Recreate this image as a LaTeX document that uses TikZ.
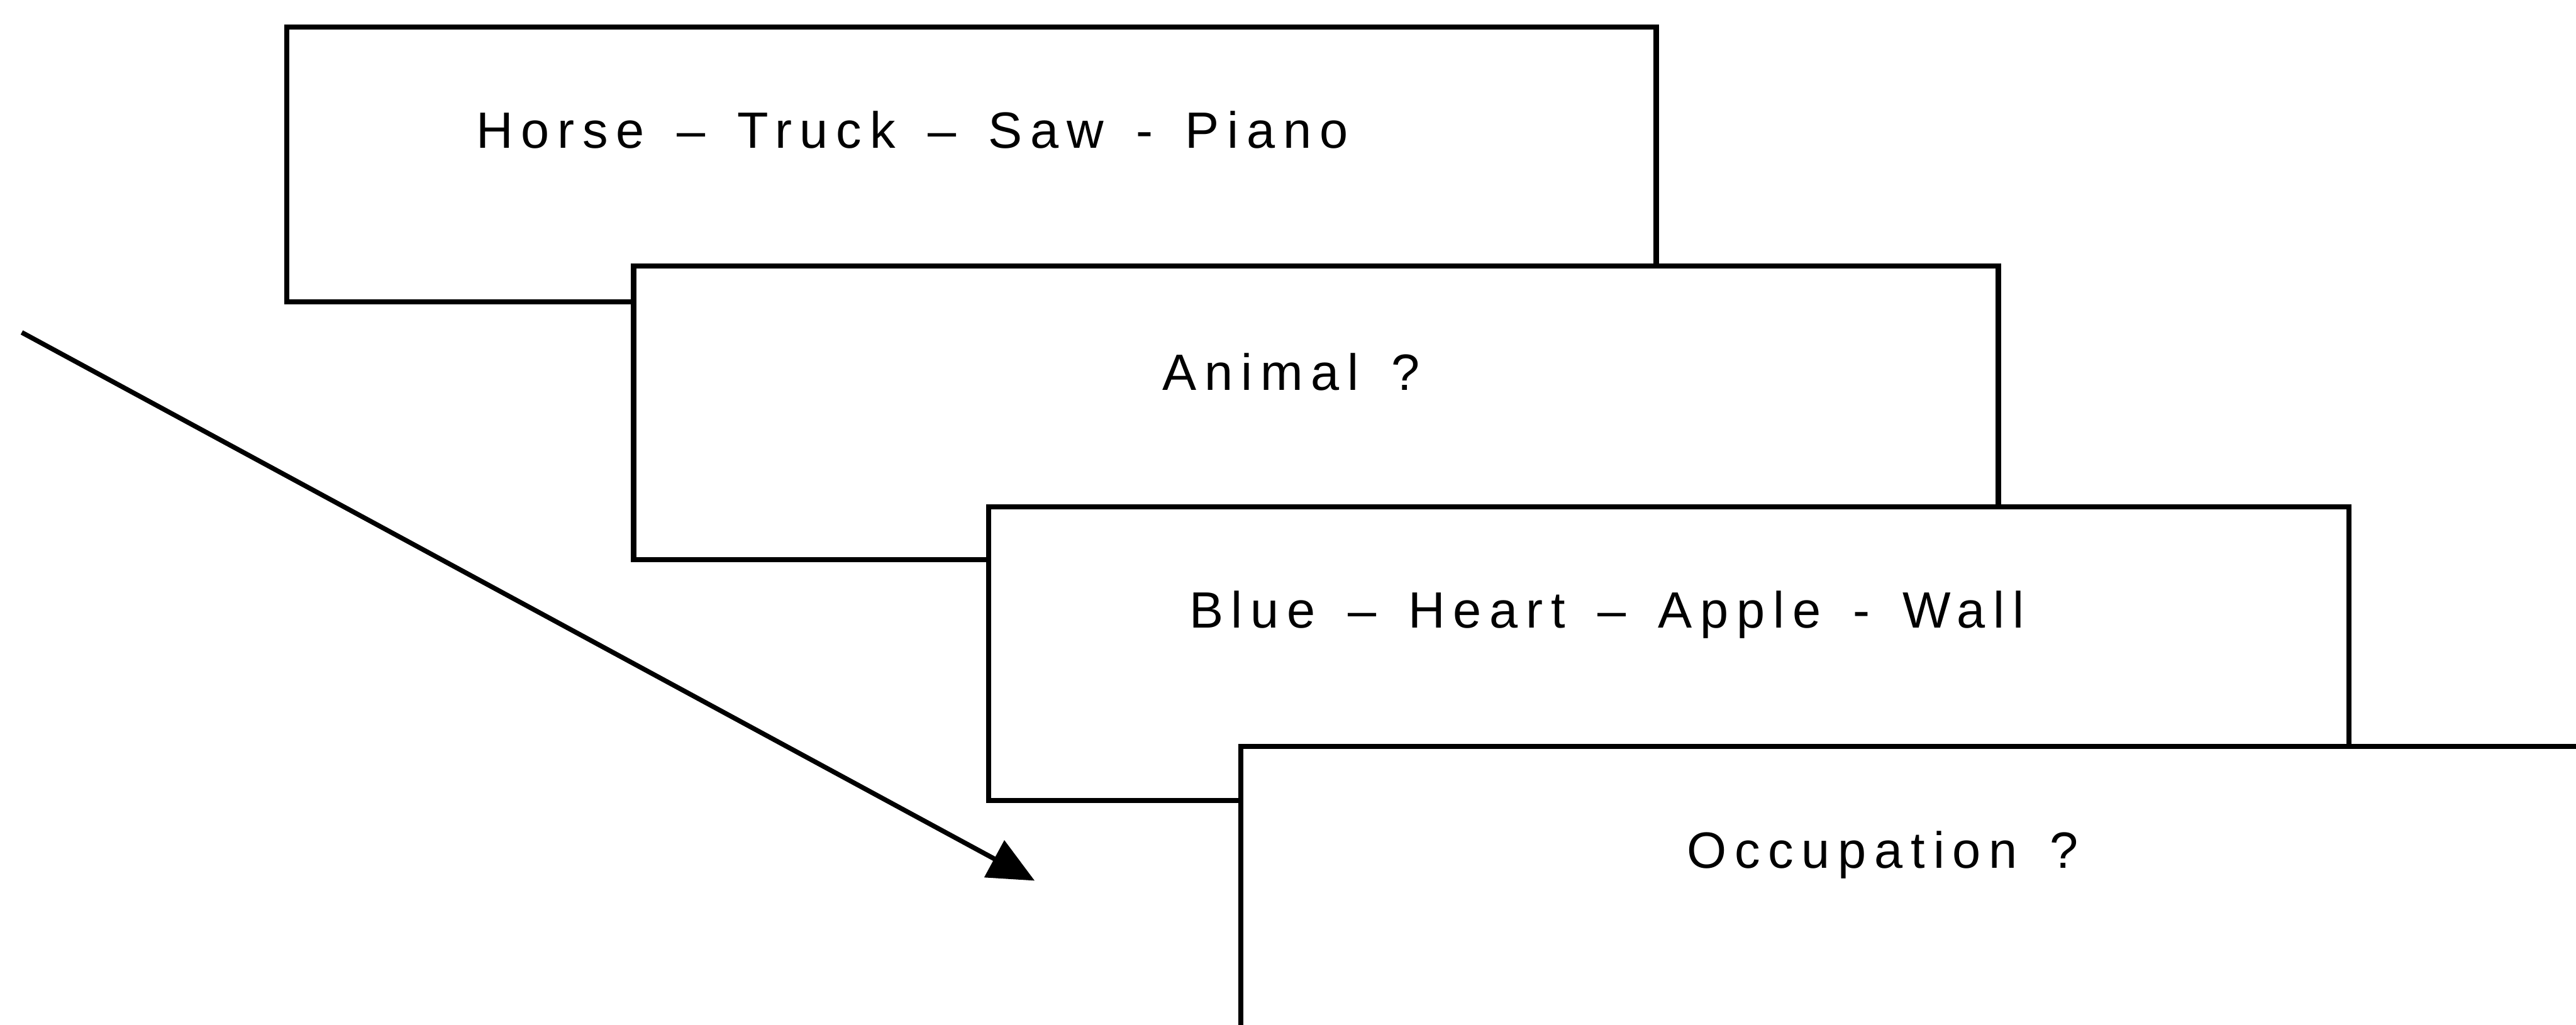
\documentclass[tikz,border=0pt]{standalone}
\usepackage{fontspec}
\newfontfamily\cardfont{Liberation Sans}[LetterSpace=15.8, WordSpace=1.45]
\usetikzlibrary{arrows.meta}

\begin{document}
\begin{tikzpicture}[
  every node/.style={font=\cardfont\fontsize{30}{36}\selectfont},
  card/.style={draw, fill=white, line width=3pt, inner sep=0pt, anchor=north west, minimum width=28.2cm, minimum height=6.07cm},
  cardtext/.style={inner sep=0pt, anchor=base}
]
  \useasboundingbox (0,0) rectangle (53.23,21.18);
  \clip (0,0) rectangle (53.23,21.18);

  % stacked cards, each one lying over the previous
  \node[card, minimum width=28.3cm, minimum height=5.68cm] (list1) at (5.87,20.67) {};
  \node[card] (cue1) at (13.04,15.74) {};
  \node[card, minimum width=28.1cm] (list2) at (20.38,10.76) {};
  \node[card] (cue2) at (25.59,5.81) {};

  \node[cardtext] (list1-txt) at (18.85,18.12) {Horse – Truck – Saw - Piano};
  \node[cardtext] (cue1-txt) at (26.68,13.12) {Animal ?};
  \node[cardtext] (list2-txt) at (33.2,8.20) {Blue – Heart – Apple - Wall};
  \node[cardtext] (cue2-txt) at (38.9,3.24) {Occupation ?};

  % time arrow
  \coordinate (start) at (0.45,14.31);
  \coordinate (end) at (21.38,2.98);
  \draw[line width=2.8pt, -{Triangle[length=0.95cm, width=0.85cm]}] (start) -- (end);
\end{tikzpicture}
\end{document}
